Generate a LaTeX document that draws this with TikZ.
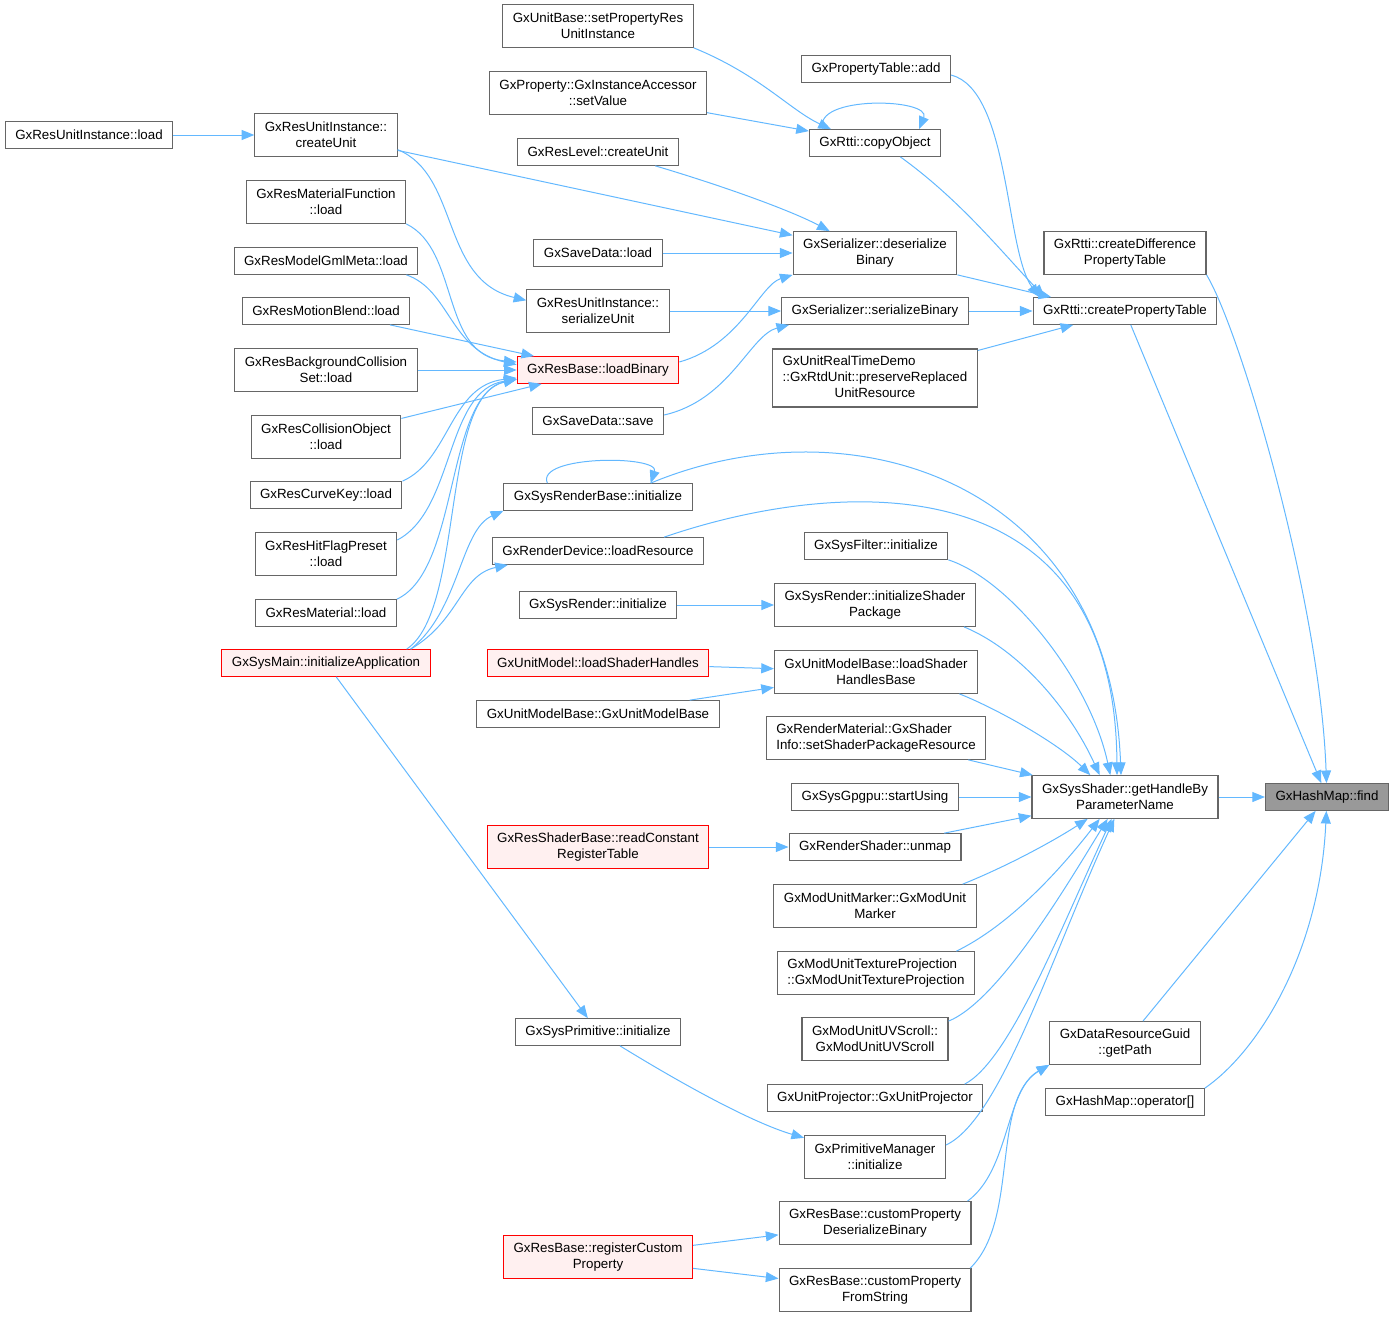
\documentclass[tikz,border=0pt]{standalone}
\usepackage{fontspec}
\setmainfont{Liberation Sans}
\usetikzlibrary{arrows.meta}
\definecolor{edgeblue}{HTML}{63B8FF}
\definecolor{callred}{HTML}{FFF0F0}

\begin{document}
\begin{tikzpicture}[x=0.75pt,y=-0.75pt,
    box/.style={draw=black!60, line width=0.8pt, fill=white, align=center,
      inner xsep=7.5pt, inner ysep=2pt, minimum height=20pt,
      font=\fontsize{10}{12}\selectfont},
    twoline/.style={minimum height=32pt},
    threeline/.style={minimum height=43.5pt},
    rootbox/.style={box, fill=black!40},
    redbox/.style={box, draw=red, fill=callred},
    call/.style={draw=edgeblue, line width=0.75pt, -{Triangle[length=9.5pt,width=7.5pt]}}]
  \useasboundingbox (0,0) rectangle (1395,1317);

  % right side
  \node[rootbox] (find) at (1327,797) {GxHashMap::find};
  \node[box,twoline] (gh) at (1125,797) {GxSysShader::getHandleBy\\ParameterName};
  \node[box] (cpt) at (1125,311) {GxRtti::createPropertyTable};
  \node[box,twoline] (cdpt) at (1125,253) {GxRtti::createDifference\\PropertyTable};
  \node[box,twoline] (gp) at (1125,1043) {GxDataResourceGuid\\::getPath};
  \node[box] (op) at (1125,1102) {GxHashMap::operator[]};

  % third column
  \node[box] (ptadd) at (876,69) {GxPropertyTable::add};
  \node[box] (co) at (875,143) {GxRtti::copyObject};
  \node[box,twoline] (dsb) at (875,253) {GxSerializer::deserialize\\Binary};
  \node[box] (sb) at (875,311) {GxSerializer::serializeBinary};
  \node[box,threeline] (prr) at (875,378) {\begin{tabular}{@{}l@{}}GxUnitRealTimeDemo\\::GxRtdUnit::preserveReplaced\\\multicolumn{1}{@{}c@{}}{UnitResource}\end{tabular}};
  \node[box] (sf) at (876,546) {GxSysFilter::initialize};
  \node[box,twoline] (isp) at (875,605) {GxSysRender::initializeShader\\Package};
  \node[box,twoline] (lshb) at (876,672) {GxUnitModelBase::loadShader\\HandlesBase};
  \node[box,twoline,align=left] (sspr) at (876,738) {GxRenderMaterial::GxShader\\Info::setShaderPackageResource};
  \node[box] (su) at (875,797) {GxSysGpgpu::startUsing};
  \node[box] (unmap) at (875,847) {GxRenderShader::unmap};
  \node[box,twoline] (mum) at (875,906) {GxModUnitMarker::GxModUnit\\Marker};
  \node[box,twoline,align=left] (mtp) at (876,973) {GxModUnitTextureProjection\\::GxModUnitTextureProjection};
  \node[box,twoline] (muv) at (875,1039) {GxModUnitUVScroll::\\GxModUnitUVScroll};
  \node[box] (upj) at (875,1098) {GxUnitProjector::GxUnitProjector};
  \node[box,twoline] (pm) at (875,1157) {GxPrimitiveManager\\::initialize};
  \node[box,twoline] (cpdb) at (875,1223) {GxResBase::customProperty\\DeserializeBinary};
  \node[box,twoline] (cpfs) at (875,1290) {GxResBase::customProperty\\FromString};

  % second column
  \node[box,twoline] (sprui) at (598,26) {GxUnitBase::setPropertyRes\\UnitInstance};
  \node[box,twoline] (sv) at (598,93) {GxProperty::GxInstanceAccessor\\::setValue};
  \node[box] (rlcu) at (598,152) {GxResLevel::createUnit};
  \node[box] (sdl) at (598,253) {GxSaveData::load};
  \node[box,twoline] (rusu) at (598,311) {GxResUnitInstance::\\serializeUnit};
  \node[redbox] (lb) at (598,370) {GxResBase::loadBinary};
  \node[box] (sds) at (598,421) {GxSaveData::save};
  \node[box] (srb) at (598,497) {GxSysRenderBase::initialize};
  \node[box] (rdl) at (598,551) {GxRenderDevice::loadResource};
  \node[box] (sr) at (598,605) {GxSysRender::initialize};
  \node[redbox] (um) at (598,663) {GxUnitModel::loadShaderHandles};
  \node[box] (umb) at (598,714) {GxUnitModelBase::GxUnitModelBase};
  \node[redbox,twoline] (rcrt) at (598,847) {GxResShaderBase::readConstant\\RegisterTable};
  \node[box] (sp) at (598,1032) {GxSysPrimitive::initialize};
  \node[redbox,twoline] (rcp) at (598,1257) {GxResBase::registerCustom\\Property};

  % first columns
  \node[box] (rul) at (89,135) {GxResUnitInstance::load};
  \node[box,twoline] (rucu) at (326,135) {GxResUnitInstance::\\createUnit};
  \node[box,twoline] (rmf) at (326,202) {GxResMaterialFunction\\::load};
  \node[box] (gml) at (326,261) {GxResModelGmlMeta::load};
  \node[box] (mb) at (326,311) {GxResMotionBlend::load};
  \node[box,twoline] (bgc) at (326,370) {GxResBackgroundCollision\\Set::load};
  \node[box,twoline] (rco) at (326,437) {GxResCollisionObject\\::load};
  \node[box] (rck) at (326,495) {GxResCurveKey::load};
  \node[box,twoline] (rhf) at (326,554) {GxResHitFlagPreset\\::load};
  \node[box] (rmat) at (326,613) {GxResMaterial::load};
  \node[redbox] (sm) at (326,663) {GxSysMain::initializeApplication};

  % straight calls
  \draw[call] (gh) -- (find);
  \draw[call] (cpt) -- (find);
  \draw[call] (gp) -- (find);
  \draw[call] (sb) -- (cpt);
  \draw[call] (prr) -- (cpt);
  \draw[call] (dsb.south east) -- ([xshift=14pt]cpt.north west);
  \draw[call] (sv) -- (co);
  \draw[call] (rucu) -- (dsb);
  \draw[call] (sdl) -- (dsb);
  \draw[call] (rusu) -- (sb);
  \draw[call] (rul) -- (rucu);
  \draw[call] (mb) -- (lb);
  \draw[call] (bgc) -- (lb);
  \draw[call] (rco) -- (lb);
  \draw[call] (sm) -- (sp);
  \draw[call] (sr) -- (isp);
  \draw[call] (um) -- (lshb);
  \draw[call] (umb) -- (lshb);
  \draw[call] (sspr) -- (gh);
  \draw[call] (su) -- (gh);
  \draw[call] (rcrt) -- (unmap);
  \draw[call] (unmap) -- (gh);
  \draw[call] (rcp) -- (cpdb);
  \draw[call] (rcp) -- (cpfs);

  % curved calls
  \draw[call] (cdpt.south east) .. controls (1240,330) and (1320,600) .. (find);
  \draw[call] (op.north east) .. controls (1260,1050) and (1320,950) .. (find);
  \draw[call] ([yshift=-4.5pt]ptadd.east) .. controls (1010,90) and (1005,250) .. ([xshift=5pt]cpt.north west);
  \draw[call] ([xshift=19pt]co.south) .. controls (960,200) and (1000,250) .. ([xshift=9pt]cpt.north west);
  \draw[call] ([xshift=10.5pt]co.north west) .. controls (812,95) and (932,98) .. ([xshift=-16.5pt]co.north east);
  \draw[call] (sprui.south east) .. controls (760,75) and (790,110) .. ([xshift=16.5pt]co.north west);
  \draw[call] ([xshift=43pt]rlcu.south) .. controls (720,185) and (790,210) .. ([xshift=-34pt]dsb.north);
  \draw[call] ([yshift=6pt]lb.east) .. controls (740,345) and (760,285) .. (dsb.south west);
  \draw[call] ([yshift=4.5pt]sds.east) .. controls (730,400) and (750,335) .. ([xshift=6pt]sb.south west);
  \draw[call] ([yshift=-11pt]rucu.east) .. controls (460,175) and (440,280) .. ([yshift=8pt]rusu.west);
  \draw[call] (rmf.south east) .. controls (460,250) and (440,355) .. ([yshift=6pt]lb.west);
  \draw[call] ([xshift=-9pt]gml.south east) .. controls (450,290) and (450,350) .. ([yshift=4pt]lb.west);
  \draw[call] (rck.north east) .. controls (450,460) and (450,385) .. ([yshift=-6pt]lb.west);
  \draw[call] ([yshift=10.5pt]rhf.east) .. controls (455,510) and (445,390) .. ([yshift=-7pt]lb.west);
  \draw[call] (rmat.north east) .. controls (460,570) and (445,395) .. ([yshift=-7pt]lb.west);
  \draw[call] ([xshift=-18pt]sm.north east) .. controls (465,610) and (440,395) .. ([yshift=-7pt]lb.west);
  \draw[call] ([xshift=-15pt]sm.north east) .. controls (460,610) and (460,530) .. (srb.south west);
  \draw[call] ([xshift=-15pt]sm.north east) .. controls (460,620) and (460,575) .. ([xshift=12pt]rdl.south west);
  \draw[call] ([xshift=33pt]srb.north west) .. controls (535,455) and (660,455) .. ([xshift=-31.5pt]srb.north east);
  \draw[call] ([xshift=-31.5pt]srb.north east) .. controls (850,400) and (1110,480) .. ([xshift=-3pt]gh.north);
  \draw[call] ([xshift=-30pt]rdl.north east) .. controls (830,480) and (1115,455) .. ([xshift=-6pt]gh.north);
  \draw[call] (sf.south east) .. controls (1010,580) and (1090,680) .. ([xshift=-11pt]gh.north);
  \draw[call] ([xshift=-9pt]isp.south east) .. controls (1020,650) and (1070,710) .. ([xshift=-19pt]gh.north);
  \draw[call] ([xshift=-14pt]lshb.south east) .. controls (1000,710) and (1060,745) .. ([xshift=-26pt]gh.north);
  \draw[call] ([xshift=-10.5pt]mum.north east) .. controls (1010,865) and (1055,840) .. ([xshift=-28pt]gh.south);
  \draw[call] ([xshift=-14pt]mtp.north east) .. controls (1010,925) and (1060,870) .. ([xshift=-19pt]gh.south);
  \draw[call] ([yshift=-3pt]muv.north east) .. controls (1000,1000) and (1070,880) .. ([xshift=-13pt]gh.south);
  \draw[call] ([xshift=-14pt]upj.north east) .. controls (1010,1060) and (1060,930) .. ([xshift=-10pt]gh.south);
  \draw[call] ([yshift=9pt]pm.east) .. controls (1000,1120) and (1050,960) .. ([xshift=-8pt]gh.south);
  \draw[call] ([xshift=16.5pt]sp.south) .. controls (700,1095) and (760,1125) .. ([yshift=-2pt]pm.north west);
  \draw[call] ([xshift=-3pt]cpdb.north east) .. controls (1010,1170) and (1005,1090) .. (gp.south west);
  \draw[call] ([xshift=-1pt]cpfs.north east) .. controls (1020,1220) and (990,1100) .. (gp.south west);
\end{tikzpicture}
\end{document}
